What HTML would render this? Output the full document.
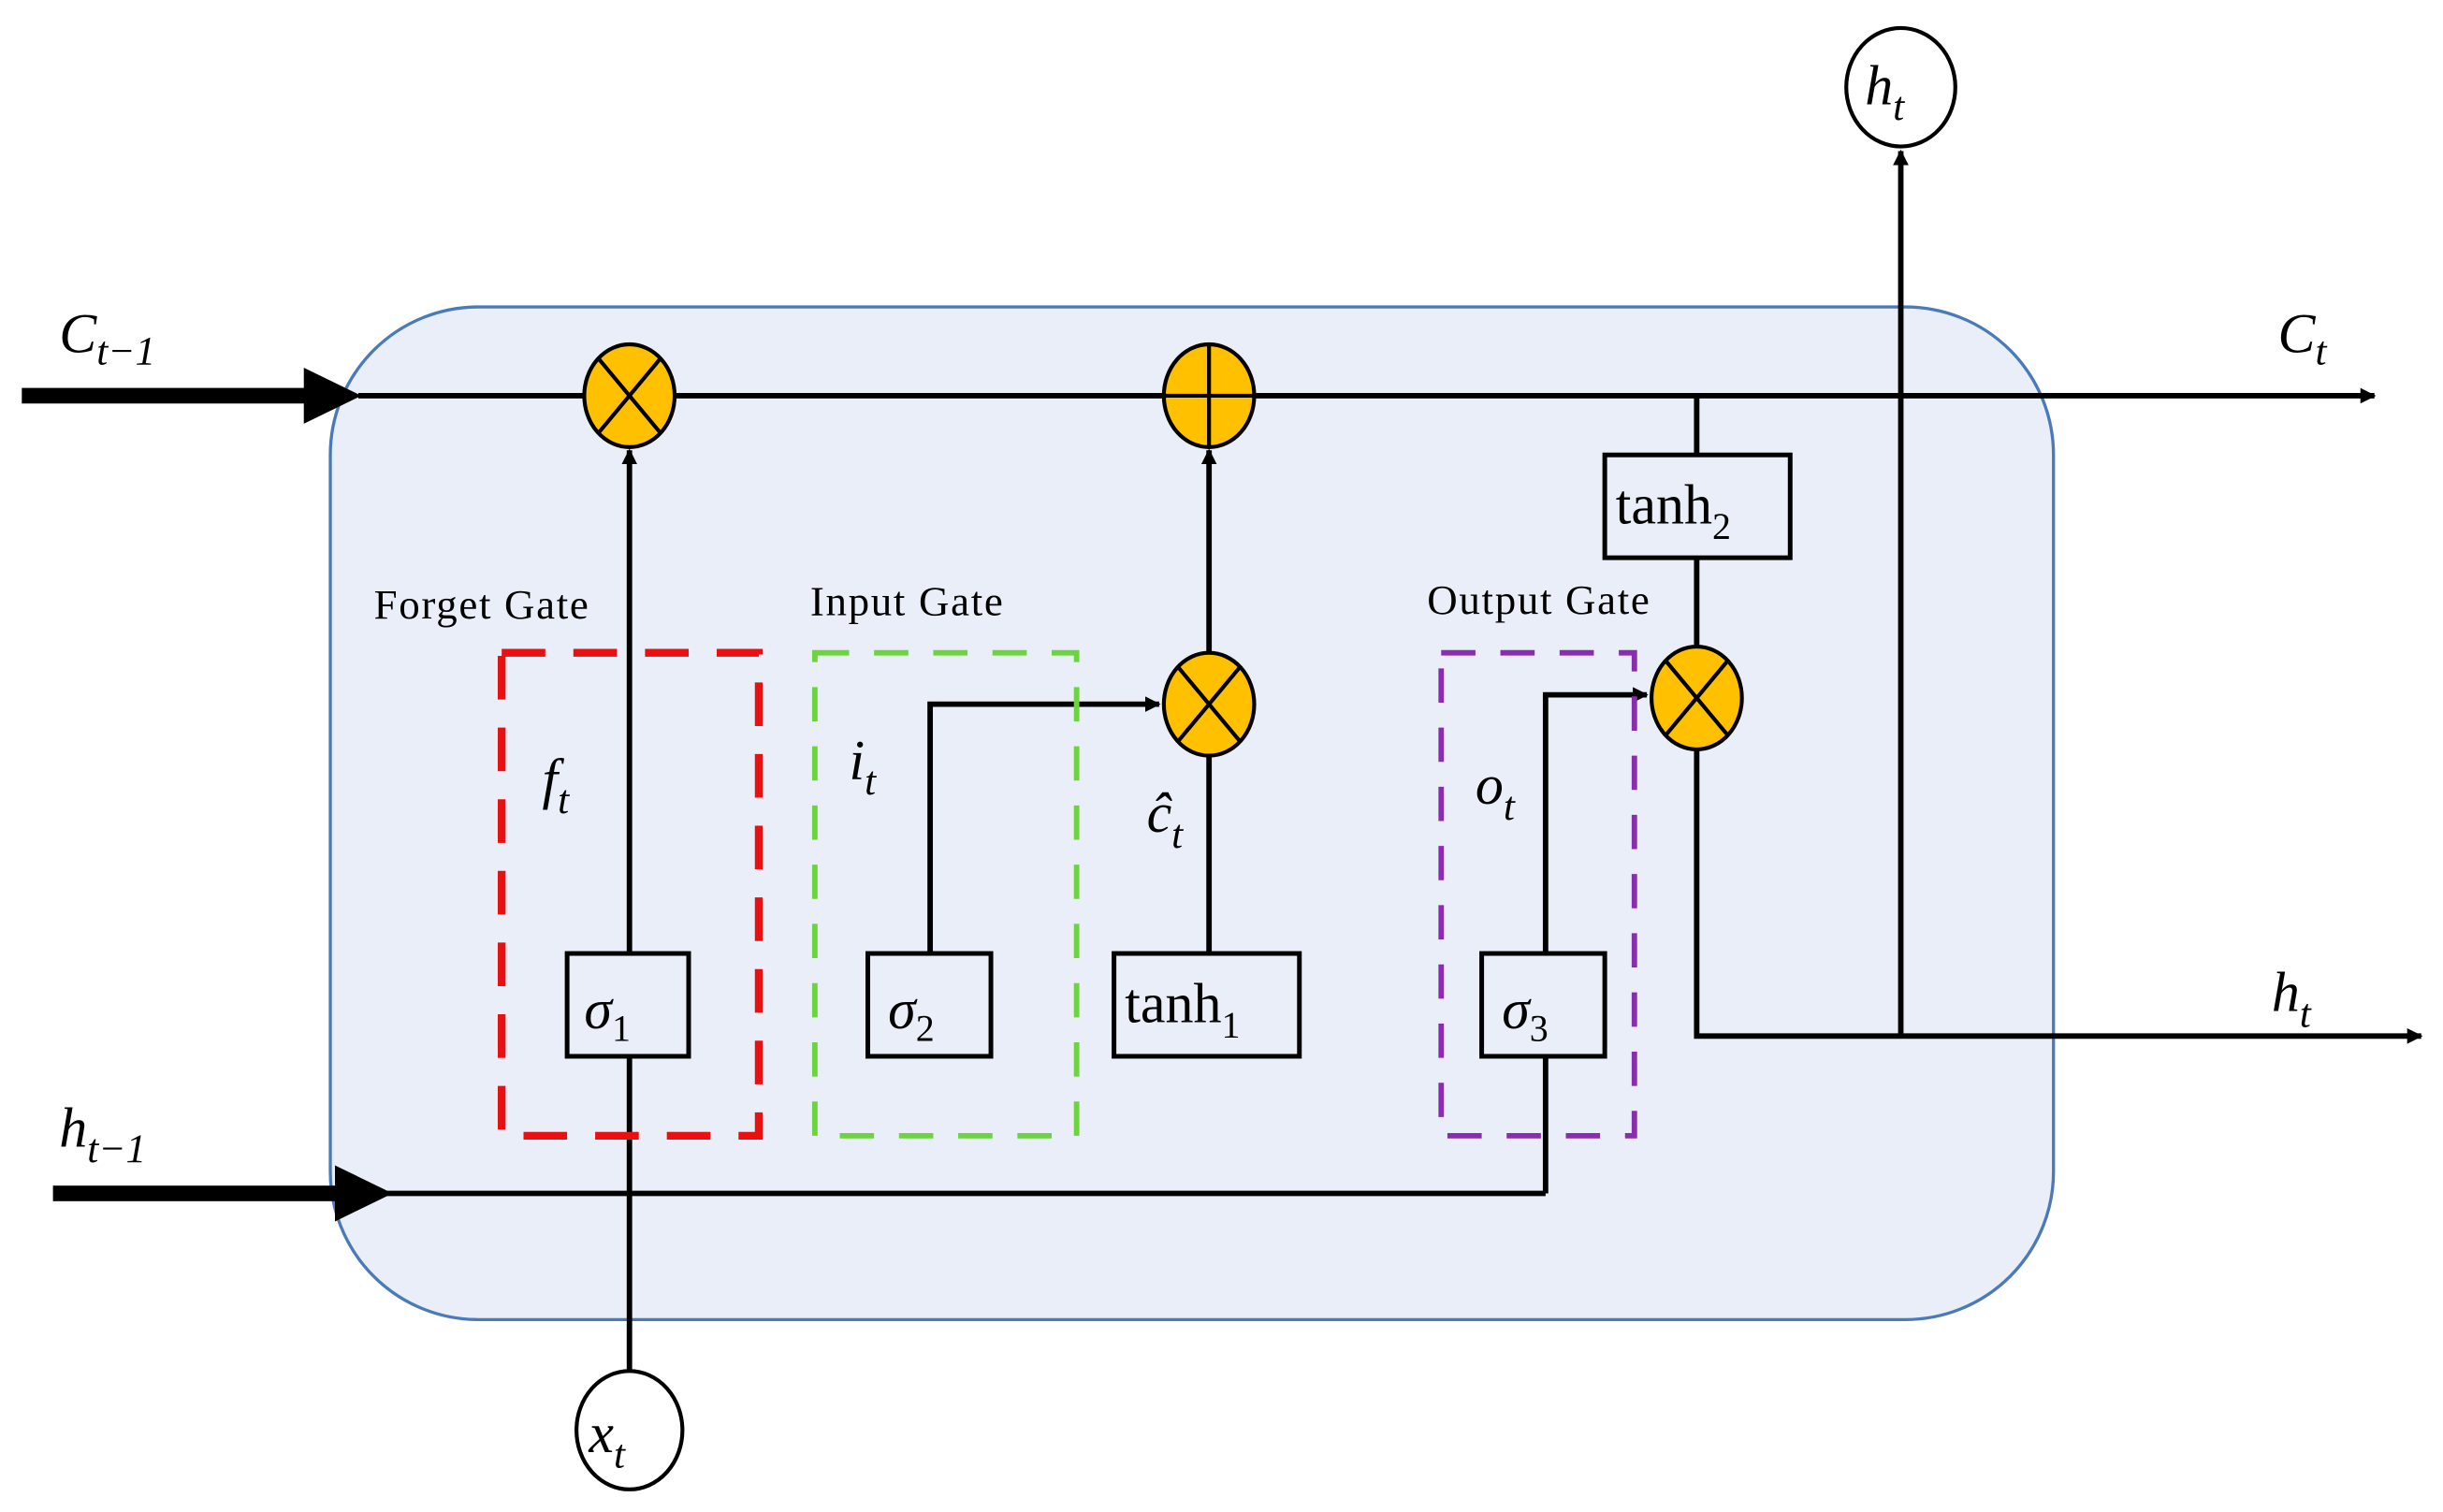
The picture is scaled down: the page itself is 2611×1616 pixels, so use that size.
<!DOCTYPE html>
<html><head><meta charset="utf-8"><style>html,body{margin:0;padding:0;background:#fff}svg{display:block}</style></head>
<body>
<svg width="2611" height="1616" viewBox="0 0 1568 970.5" preserveAspectRatio="none" xmlns="http://www.w3.org/2000/svg" font-family="'Liberation Serif', serif">
<defs>
<marker id="a" markerWidth="10" markerHeight="10" refX="9" refY="5" orient="auto" markerUnits="userSpaceOnUse"><path d="M0,0 L10,5 L0,10 z" fill="#000"/></marker>
</defs>
<rect x="212" y="197" width="1106" height="650" rx="95" ry="95" fill="#e9eef8" stroke="#4a7ab8" stroke-width="2"/>
<rect x="14" y="249" width="185" height="10" fill="#000"/>
<path d="M195,236 L232,254 L195,272 z" fill="#000"/>
<rect x="34" y="761" width="185" height="10" fill="#000"/>
<path d="M215,748 L252,766 L215,784 z" fill="#000"/>
<g stroke="#000" stroke-width="3.5" fill="none">
<line x1="230" y1="254" x2="1524" y2="254" marker-end="url(#a)"/>
<line x1="240" y1="766" x2="992" y2="766"/>
<polyline points="992,766 992,678"/>
<line x1="404" y1="880" x2="404" y2="289" marker-end="url(#a)"/>
<polyline points="597,612 597,452 744,452" marker-end="url(#a)"/>
<line x1="776" y1="612" x2="776" y2="486"/>
<line x1="776" y1="420" x2="776" y2="289" marker-end="url(#a)"/>
<polyline points="992,612 992,446 1057,446" marker-end="url(#a)"/>
<line x1="1089" y1="254" x2="1089" y2="292"/>
<line x1="1089" y1="358" x2="1089" y2="414"/>
<polyline points="1089,482 1089,665 1554,665" marker-end="url(#a)"/>
<line x1="1220" y1="665" x2="1220" y2="97" marker-end="url(#a)"/>
</g>
<rect x="322" y="419" width="165" height="310" fill="none" stroke="#e81010" stroke-width="5" stroke-dasharray="28,18"/>
<rect x="523" y="419" width="168" height="310" fill="none" stroke="#6cd43c" stroke-width="3.5" stroke-dasharray="22,16"/>
<rect x="925" y="419" width="124" height="310" fill="none" stroke="#8a2cb0" stroke-width="3.5" stroke-dasharray="22,16"/>
<g stroke="#000" stroke-width="2.5" fill="#ffc000">
<ellipse cx="404" cy="254" rx="29" ry="33"/>
<ellipse cx="776" cy="254" rx="29" ry="33"/>
<ellipse cx="776" cy="452" rx="29" ry="33"/>
<ellipse cx="1089" cy="448" rx="29" ry="33"/>
</g>
<g stroke="#000" stroke-width="2.5">
<line x1="384" y1="230" x2="424" y2="278"/><line x1="424" y1="230" x2="384" y2="278"/>
<line x1="776" y1="221" x2="776" y2="287"/><line x1="747" y1="254" x2="805" y2="254"/>
<line x1="756" y1="428" x2="796" y2="476"/><line x1="796" y1="428" x2="756" y2="476"/>
<line x1="1069" y1="424" x2="1109" y2="472"/><line x1="1109" y1="424" x2="1069" y2="472"/>
</g>
<g stroke="#000" stroke-width="3" fill="#e9eef8">
<rect x="364" y="612" width="78" height="66"/>
<rect x="557" y="612" width="79" height="66"/>
<rect x="715" y="612" width="119" height="66"/>
<rect x="951" y="612" width="79" height="66"/>
<rect x="1030" y="292" width="119" height="66"/>
</g>
<g fill="#fff" stroke="#000" stroke-width="2.5">
<ellipse cx="404" cy="918" rx="34" ry="38"/>
<ellipse cx="1220" cy="56" rx="35" ry="38"/>
</g>
<g font-size="36" fill="#000">
<text x="375" y="660" font-style="italic">σ<tspan font-size="24" font-style="normal" dy="8">1</tspan></text>
<text x="570" y="660" font-style="italic">σ<tspan font-size="24" font-style="normal" dy="8">2</tspan></text>
<text x="964" y="660" font-style="italic">σ<tspan font-size="24" font-style="normal" dy="8">3</tspan></text>
<text x="722" y="656">tanh<tspan font-size="24" dy="10">1</tspan></text>
<text x="1037" y="336">tanh<tspan font-size="24" dy="10">2</tspan></text>
<g font-style="italic">
<text x="378" y="932">x<tspan font-size="26" dy="10">t</tspan></text>
<text x="1197" y="67">h<tspan font-size="26" dy="10">t</tspan></text>
<text x="38" y="226">C<tspan font-size="26" dy="8">t−1</tspan></text>
<text x="1462" y="226">C<tspan font-size="26" dy="8">t</tspan></text>
<text x="1458" y="649">h<tspan font-size="26" dy="10">t</tspan></text>
<text x="38" y="736">h<tspan font-size="26" dy="10">t−1</tspan></text>
<text x="348" y="512">f<tspan font-size="26" dy="10">t</tspan></text>
<text x="545" y="500">i<tspan font-size="26" dy="10">t</tspan></text>
<text x="736" y="534">ĉ<tspan font-size="26" dy="10">t</tspan></text>
<text x="947" y="516">o<tspan font-size="26" dy="10">t</tspan></text>
</g>
</g>
<g font-size="27" fill="#000" letter-spacing="1">
<text x="240" y="397">Forget Gate</text>
<text x="520" y="395">Input Gate</text>
<text x="916" y="394">Output Gate</text>
</g>
</svg>
</body></html>
